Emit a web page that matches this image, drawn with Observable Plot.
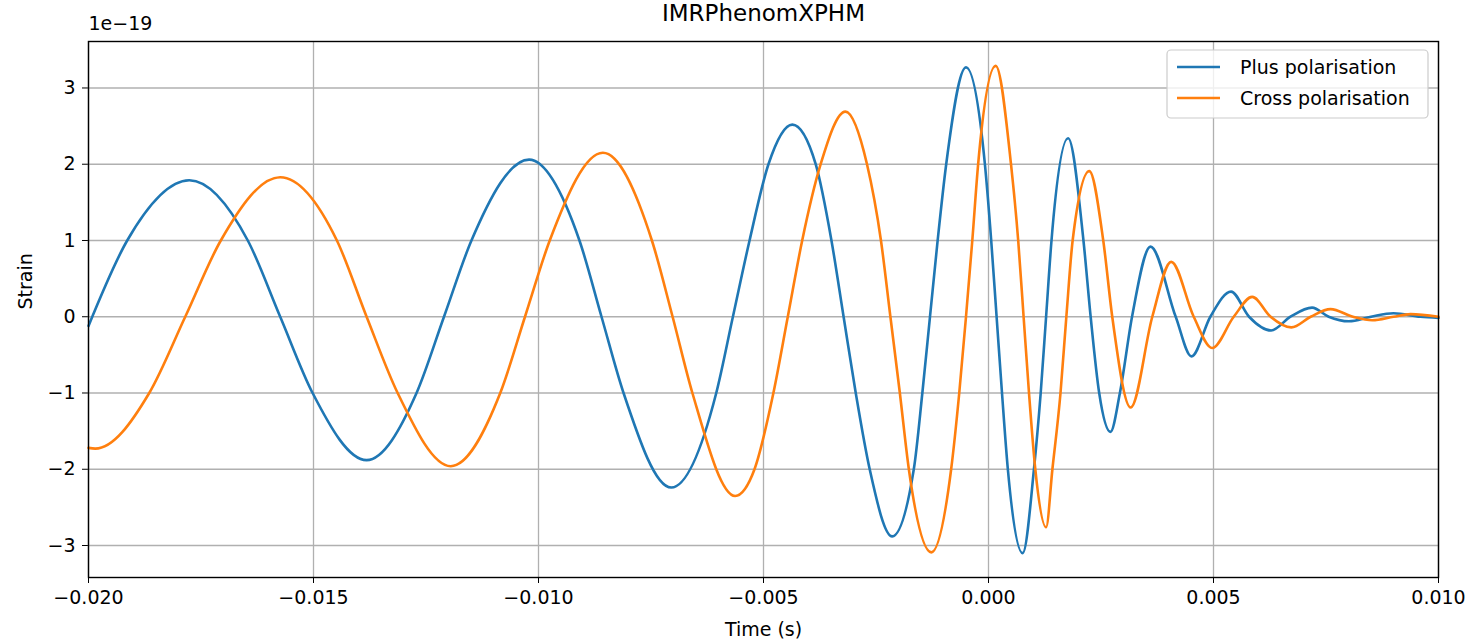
<!DOCTYPE html>
<html>
<head>
<meta charset="utf-8">
<script src="https://cdn.jsdelivr.net/npm/d3@7"></script>
<script src="https://cdn.jsdelivr.net/npm/@observablehq/plot@0.6"></script>
<style>
  html, body { margin: 0; padding: 0; background: #fff; }
  #chart { width: 1472px; height: 642px; }
</style>
</head>
<body>
<div id="chart"></div>
<script>
// ---- Data (strain in units of 1e-19) ----
const plusT = [-0.0200, -0.01914, -0.01776, -0.01646, -0.01574, -0.01502, -0.01382, -0.01271, -0.01210, -0.01149,
  -0.01021, -0.00909, -0.00860, -0.00811, -0.00705, -0.00605, -0.00568, -0.00531, -0.00489,
  -0.00436, -0.00384, -0.00349, -0.00322, -0.00295, -0.00264, -0.00214, -0.00166, -0.00147, -0.00130, -0.00113, -0.00094,
  -0.00050, -0.00008, 0.00006, 0.00018, 0.00030, 0.00043, 0.00076, 0.00101, 0.00116, 0.00128, 0.00140,
  0.00177, 0.00211, 0.00227, 0.00246, 0.00271, 0.00292, 0.00319, 0.00360, 0.00416, 0.00451, 0.00493, 0.00539,
  0.00579, 0.00628, 0.00671, 0.00719, 0.00756, 0.00801, 0.00850, 0.00900, 0.00960, 0.01000];
const plusH = [-0.12, 1.0, 1.79, 1.0, 0.0, -1.0, -1.88, -1.0, 0.0, 1.0,
  2.06, 1.0, 0.0, -1.0, -2.24, -1.0, 0.0, 1.0, 2.0,
  2.52, 2.0, 1.0, 0.0, -1.0, -2.0, -2.88, -2.0, -1.0, 0.0, 1.0, 2.0,
  3.27, 2.0, 1.0, 0.0, -1.0, -2.0, -3.10, -2.0, -1.0, 0.0, 1.0,
  2.34, 1.0, 0.0, -1.0, -1.51, -1.0, 0.0, 0.92, 0.0, -0.52, 0.0, 0.33,
  0.0, -0.18, 0.0, 0.12, 0.0, -0.06, 0.0, 0.045, 0.0, -0.015];

const crossT = [-0.0200, -0.01985, -0.01865, -0.01785, -0.01706, -0.01574, -0.01448, -0.01382, -0.01313, -0.01195,
  -0.01085, -0.01030, -0.00975, -0.00857, -0.00748, -0.00702, -0.00658, -0.00563, -0.00520, -0.00478,
  -0.00446, -0.00414, -0.00373, -0.00318, -0.00270, -0.00239, -0.00218, -0.00197, -0.00177, -0.00127,
  -0.00083, -0.00065, -0.00050, -0.00036, -0.00023, 0.00016, 0.00050, 0.00066, 0.00078, 0.00090, 0.00104, 0.00128,
  0.00142, 0.00160, 0.00173, 0.00187, 0.00224, 0.00255, 0.00275, 0.00316, 0.00364, 0.00406, 0.00456, 0.00497,
  0.00545, 0.00586, 0.00627, 0.00673, 0.00716, 0.00760, 0.00810, 0.00853, 0.00900, 0.00938, 0.01000];
const crossH = [-1.72, -1.73, -1.0, 0.0, 1.0, 1.83, 1.0, 0.0, -1.0, -1.96,
  -1.0, 0.0, 1.0, 2.15, 1.0, 0.0, -1.0, -2.35, -2.0, -1.0,
  0.0, 1.0, 2.0, 2.69, 2.0, 1.0, 0.0, -1.0, -2.0, -3.09,
  -2.0, -1.0, 0.0, 1.0, 2.0, 3.29, 2.0, 1.0, 0.0, -1.0, -2.0, -2.76,
  -2.0, -1.0, 0.0, 1.0, 1.91, 1.0, 0.0, -1.19, 0.0, 0.72, 0.0, -0.41,
  0.0, 0.26, 0.0, -0.14, 0.0, 0.10, 0.0, -0.045, 0.0, 0.035, 0.0];

const seriesNames = ["Plus polarisation", "Cross polarisation"];
const seriesColors = ["#1f77b4", "#ff7f0e"];
const xTicks = [-0.020, -0.015, -0.010, -0.005, 0.000, 0.005, 0.010];
const yTicks = [-3, -2, -1, 0, 1, 2, 3];
const titleText = "IMRPhenomXPHM";
const xLabel = "Time (s)";
const yLabel = "Strain";
const offsetText = "1e\u221219";

const plusData = plusT.map((t, i) => ({t, h: plusH[i]}));
const crossData = crossT.map((t, i) => ({t, h: crossH[i]}));

const allH = plusH.concat(crossH);
const hMin = d3.min(allH), hMax = d3.max(allH);
const pad = (hMax - hMin) * 0.05;

const fmtX = v => d3.format(".3f")(Math.abs(v) < 1e-12 ? 0 : v);
const fmtY = d3.format("d");

const plot = Plot.plot({
  width: 1472,
  height: 642,
  marginLeft: 88,
  marginRight: 34,
  marginTop: 41,
  marginBottom: 65,
  style: {fontFamily: "'DejaVu Sans', sans-serif", fontSize: "19px", color: "#000", background: "#fff", overflow: "visible"},
  x: {domain: [xTicks[0], xTicks[xTicks.length - 1]], ticks: xTicks, tickFormat: fmtX, label: null, tickSize: 6, tickPadding: 7},
  y: {domain: [hMin - pad, hMax + pad], ticks: yTicks, tickFormat: fmtY, label: null, tickSize: 6, tickPadding: 7},
  marks: [
    Plot.gridX(xTicks, {stroke: "#b0b0b0", strokeOpacity: 1, strokeWidth: 1.3}),
    Plot.gridY(yTicks, {stroke: "#b0b0b0", strokeOpacity: 1, strokeWidth: 1.3}),
    Plot.line(plusData, {x: "t", y: "h", stroke: seriesColors[0], strokeWidth: 2.6, curve: "monotone-x"}),
    Plot.line(crossData, {x: "t", y: "h", stroke: seriesColors[1], strokeWidth: 2.6, curve: "monotone-x"}),
    Plot.frame({stroke: "#000", strokeWidth: 1.4}),
    Plot.text([titleText], {text: d => d, frameAnchor: "top", dy: -37, fontSize: 23}),
    Plot.text([offsetText], {text: d => d, frameAnchor: "top-left", textAnchor: "start", dy: -25}),
    Plot.text([xLabel], {text: d => d, frameAnchor: "bottom", dy: 58}),
    Plot.text([yLabel], {text: d => d, frameAnchor: "left", rotate: -90, dx: -63})
  ]
});

// Legend (matplotlib-style box in the upper right)
const svg = d3.select(plot);
const lg = svg.append("g").attr("font-family", "'DejaVu Sans', sans-serif").attr("font-size", 19).attr("text-anchor", "start");
const bx = 1167, by = 50, bw = 261, bh = 68;
lg.append("rect").attr("x", bx).attr("y", by).attr("width", bw).attr("height", bh)
  .attr("rx", 4).attr("fill", "#fff").attr("fill-opacity", 0.8).attr("stroke", "#cccccc").attr("stroke-width", 1.2);
seriesNames.forEach((name, i) => {
  const cy = by + 17 + i * 31;
  lg.append("line").attr("x1", bx + 10).attr("x2", bx + 53).attr("y1", cy).attr("y2", cy)
    .attr("stroke", seriesColors[i]).attr("stroke-width", 2.6);
  lg.append("text").attr("x", bx + 73).attr("y", cy).attr("dy", "0.35em").attr("text-anchor", "start").attr("fill", "#000").text(name);
});

document.getElementById("chart").appendChild(plot);
</script>
</body>
</html>
